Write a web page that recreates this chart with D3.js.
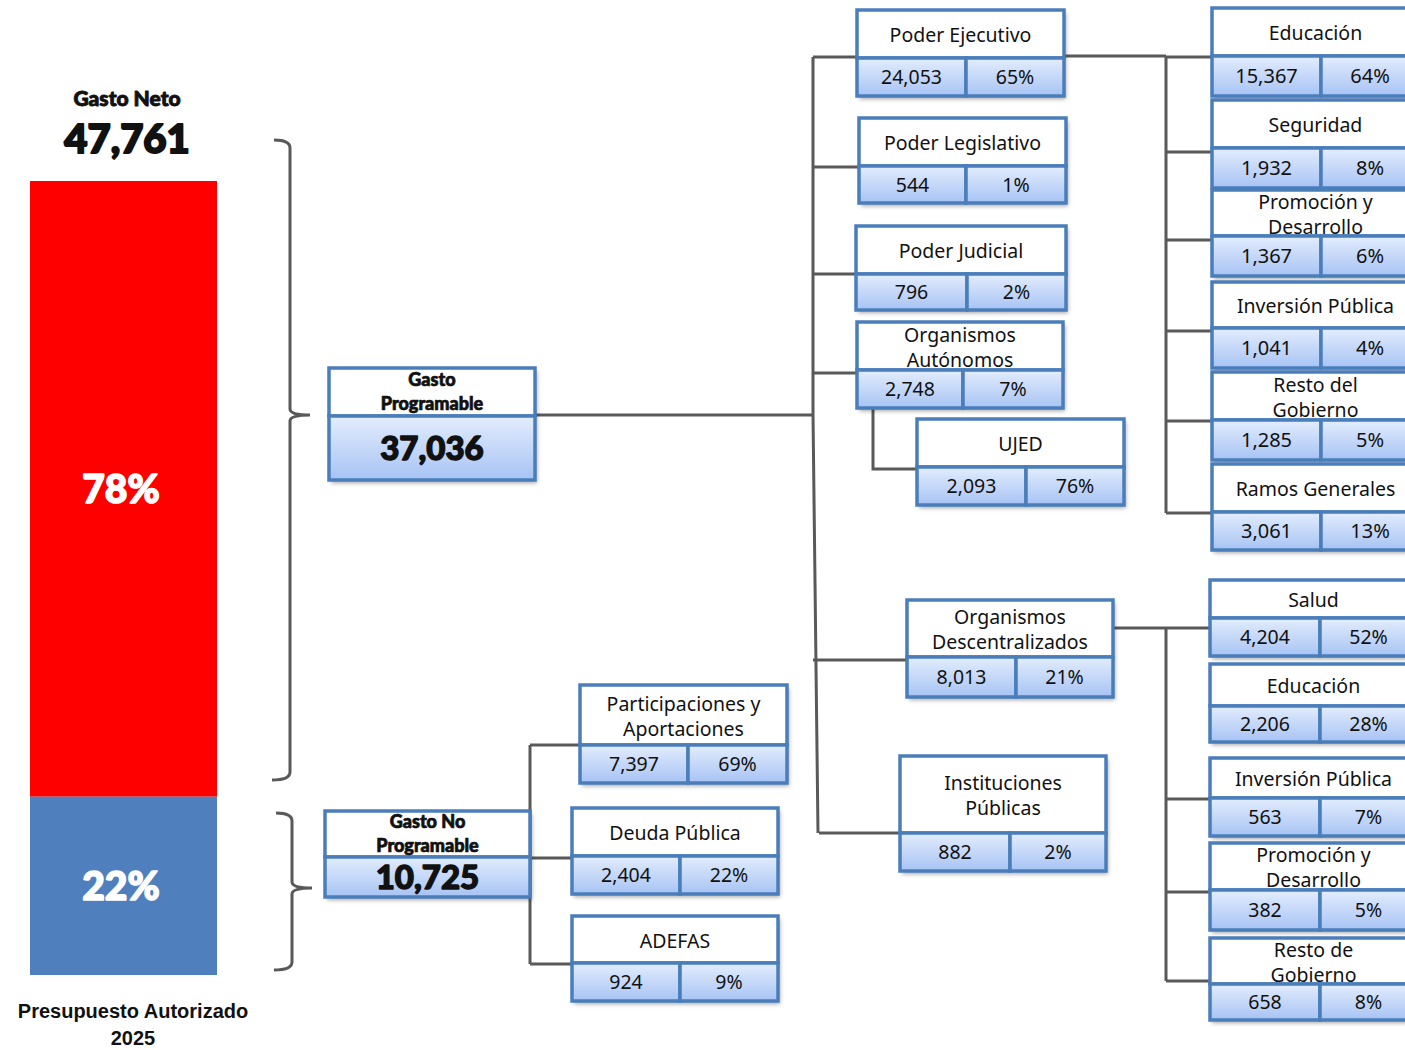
<!DOCTYPE html>
<html><head><meta charset="utf-8">
<script src="https://cdn.jsdelivr.net/npm/d3@7"></script>
<style>body{margin:0;background:#fff}svg{display:block}</style>
</head><body>
<svg id="c" width="1405" height="1050"></svg>
<script>
// ---------- DATA ----------
const totalLabel = "Gasto Neto";
const totalValue = 47761;
const footerLines = ["Presupuesto Autorizado", "2025"];
const splitNames = ["Gasto Programable", "Gasto No Programable"];
const splitValues = [37036, 10725];
const splitPcts = ["78%", "22%"];
const progNames = ["Poder Ejecutivo", "Poder Legislativo", "Poder Judicial", "Organismos Autónomos", "UJED", "Organismos Descentralizados", "Instituciones Públicas"];
const progValues = [24053, 544, 796, 2748, 2093, 8013, 882];
const progPcts = ["65%", "1%", "2%", "7%", "76%", "21%", "2%"];
const noProgNames = ["Participaciones y Aportaciones", "Deuda Pública", "ADEFAS"];
const noProgValues = [7397, 2404, 924];
const noProgPcts = ["69%", "22%", "9%"];
const ejecNames = ["Educación", "Seguridad", "Promoción y Desarrollo", "Inversión Pública", "Resto del Gobierno", "Ramos Generales"];
const ejecValues = [15367, 1932, 1367, 1041, 1285, 3061];
const ejecPcts = ["64%", "8%", "6%", "4%", "5%", "13%"];
const descNames = ["Salud", "Educación", "Inversión Pública", "Promoción y Desarrollo", "Resto de Gobierno"];
const descValues = [4204, 2206, 563, 382, 658];
const descPcts = ["52%", "28%", "7%", "5%", "8%"];

// ---------- LAYOUT (positions / sizes only) ----------
const splitLayout = [
  {x:329, y:368, w:206, th:48, vh:64, brk:1, cy:415},
  {x:325, y:811, w:205, th:46, vh:40, brk:2, cy:858}
];
const progLayout = [
  {x:857, y:10,  w:207, th:48, vh:38, sx:109, cy:57},
  {x:859, y:118, w:207, th:48, vh:37, sx:107, cy:167},
  {x:856, y:226, w:210, th:48, vh:36, sx:111, cy:274},
  {x:857, y:322, w:206, th:48, vh:38, sx:106, cy:373, brk:1},
  {x:917, y:419, w:207, th:48, vh:38, sx:109, cy:469},
  {x:907, y:600, w:206, th:57, vh:40, sx:109, cy:660, brk:1},
  {x:900, y:756, w:206, th:77, vh:38, sx:110, cy:833, brk:1}
];
const noProgLayout = [
  {x:580, y:685, w:207, th:60, vh:38, sx:108, cy:745, brk:2},
  {x:572, y:808, w:206, th:48, vh:38, sx:108, cy:858},
  {x:572, y:916, w:206, th:47, vh:38, sx:108, cy:964}
];
const ejecLayout = [
  {x:1212, y:8,   w:207, th:48, vh:40, sx:109, cy:57},
  {x:1212, y:100, w:207, th:48, vh:40, sx:109, cy:152},
  {x:1212, y:190, w:207, th:46, vh:40, sx:109, cy:240, brk:2},
  {x:1212, y:282, w:207, th:46, vh:40, sx:109, cy:331},
  {x:1212, y:372, w:207, th:48, vh:40, sx:109, cy:421, brk:2},
  {x:1212, y:464, w:207, th:48, vh:38, sx:109, cy:513}
];
const descLayout = [
  {x:1210, y:580, w:207, th:38, vh:38, sx:110, cy:628},
  {x:1210, y:664, w:207, th:42, vh:36, sx:110, cy:null},
  {x:1210, y:758, w:207, th:40, vh:38, sx:110, cy:799},
  {x:1210, y:843, w:207, th:47, vh:40, sx:110, cy:892, brk:2},
  {x:1210, y:938, w:207, th:46, vh:36, sx:110, cy:981, brk:2}
];

const BLUE = "#4a7ebb", LINE = "#595959";
const fmt = d3.format(",");
const svg = d3.select("#c");
const defs = svg.append("defs");
const grad = defs.append("linearGradient").attr("id","cell").attr("x1",0).attr("y1",0).attr("x2",0).attr("y2",1);
grad.append("stop").attr("offset","0%").attr("stop-color","#e3edfd");
grad.append("stop").attr("offset","100%").attr("stop-color","#a7c3f4");
const f = defs.append("filter").attr("id","sh").attr("x","-10%").attr("y","-10%").attr("width","130%").attr("height","140%");
f.append("feDropShadow").attr("dx",2).attr("dy",3).attr("stdDeviation",2).attr("flood-color","#000").attr("flood-opacity",0.35);

function heavy(sel, sw){
  return sel.attr("stroke", sel.attr("fill")).attr("stroke-width", sw).attr("stroke-linejoin","round").attr("paint-order","stroke");
}

// ---------- LEFT BAR ----------
const barTop = 181, barBottom = 975;
const y = d3.scaleLinear().domain([0, d3.sum(splitValues)]).range([barTop, barBottom]);
const stack = d3.cumsum(splitValues);
const segs = splitValues.map((v,i) => ({v, pct: splitPcts[i], y0: i ? stack[i-1] : 0, y1: stack[i]}));
const barColors = ["#ff0000", "#4f7fbc"];
const barG = svg.append("g");
barG.selectAll("rect").data(segs).join("rect")
  .attr("x",30).attr("width",187)
  .attr("y",d=>y(d.y0)).attr("height",d=>y(d.y1)-y(d.y0))
  .attr("fill",(d,i)=>barColors[i]);
barG.selectAll("text").data(segs).join("text")
  .attr("x",121).attr("y",d=>(y(d.y0)+y(d.y1))/2)
  .attr("dy","0.35em").attr("text-anchor","middle")
  .attr("font-family","Lato, 'Noto Sans', sans-serif").attr("font-weight",900)
  .attr("font-size",39).attr("fill","#fff")
  .attr("stroke","#fff").attr("stroke-width",1.6).attr("stroke-linejoin","round")
  .text(d=>d.pct);

heavy(svg.append("text").attr("x",127).attr("y",106).attr("text-anchor","middle")
  .attr("font-family","Lato, sans-serif").attr("font-weight",900).attr("font-size",21)
  .attr("fill","#111").text(totalLabel), 0.9);
heavy(svg.append("text").attr("x",127).attr("y",153).attr("text-anchor","middle")
  .attr("font-family","Lato, sans-serif").attr("font-weight",900).attr("font-size",40)
  .attr("fill","#111").text(fmt(totalValue)), 2);
svg.append("g").selectAll("text").data(footerLines).join("text")
  .attr("x",133).attr("y",(d,i)=>1018+i*27).attr("text-anchor","middle")
  .attr("font-family","'Liberation Sans', Arial, sans-serif").attr("font-weight",700).attr("font-size",20)
  .attr("fill","#111").text(d=>d);

// ---------- BRACKETS ----------
const brackets = [
  {x:290, top:140, bot:780, mid:415},
  {x:292, top:813, bot:970, mid:888}
];
const bG = svg.append("g").attr("fill","none").attr("stroke",LINE).attr("stroke-width",3);
brackets.forEach(b => {
  const p = d3.path();
  p.moveTo(b.x-16, b.top);
  p.quadraticCurveTo(b.x, b.top, b.x, b.top+8);
  p.lineTo(b.x, b.mid-6);
  p.quadraticCurveTo(b.x, b.mid, b.x+20, b.mid);
  p.moveTo(b.x+20, b.mid);
  p.quadraticCurveTo(b.x, b.mid, b.x, b.mid+6);
  p.lineTo(b.x, b.bot-8);
  p.quadraticCurveTo(b.x, b.bot, b.x-18, b.bot);
  bG.append("path").attr("d", p.toString());
});

// ---------- CONNECTORS ----------
const cG = svg.append("g").attr("fill","none").attr("stroke",LINE).attr("stroke-width",3);
function seg(x1,y1,x2,y2){ cG.append("line").attr("x1",x1).attr("y1",y1).attr("x2",x2).attr("y2",y2); }
const trunkX = 813;
const mainIdx = [0,1,2,3,5,6];
const mainCy = mainIdx.map(i=>progLayout[i].cy);
cG.append("path").attr("d", d3.line()([[trunkX, d3.min(mainCy)], [trunkX, 414], [818, d3.max(mainCy)]]));
seg(splitLayout[0].x+splitLayout[0].w, splitLayout[0].cy, trunkX, splitLayout[0].cy);
mainIdx.forEach(i => { const L = progLayout[i]; seg(trunkX + (i===6?6:0), L.cy, L.x, L.cy); });
const oa = progLayout[3], uj = progLayout[4];
cG.append("path").attr("d", d3.line()([[873, oa.y+oa.th+oa.vh], [873, uj.cy], [uj.x, uj.cy]]));
function fan(parent, py, kids, tx){
  const ys = kids.filter(k=>k.cy!=null).map(k=>k.cy);
  seg(parent.x+parent.w, py, tx, py);
  seg(tx, Math.min(py, d3.min(ys)), tx, d3.max(ys));
  kids.forEach(k => { if (k.cy!=null) seg(tx, k.cy, k.x, k.cy); });
}
fan(progLayout[0], 56, ejecLayout, 1166);
fan(progLayout[5], 628, descLayout, 1166);
const npYs = noProgLayout.map(k=>k.cy);
seg(530, d3.min(npYs), 530, d3.max(npYs));
noProgLayout.forEach(k => seg(530, k.cy, k.x, k.cy));

// ---------- BOXES ----------
const boxFont = "'Noto Sans', 'Open Sans', sans-serif";
function splitTitle(name, brk){
  if (!brk) return [name];
  const w = name.split(" ");
  return [w.slice(0,brk).join(" "), w.slice(brk).join(" ")];
}
function drawBox(g, name, value, pct, L, opts={}){
  const bx = g.append("g");
  const totalH = L.th + L.vh;
  bx.append("rect").attr("x",L.x).attr("y",L.y).attr("width",L.w).attr("height",totalH)
    .attr("fill","#fff").attr("filter","url(#sh)");
  bx.append("rect").attr("x",L.x).attr("y",L.y).attr("width",L.w).attr("height",L.th)
    .attr("fill","#fff").attr("stroke",BLUE).attr("stroke-width",3.5);
  const cells = pct == null ? [{x:L.x, w:L.w, t:fmt(value)}] :
    [{x:L.x, w:L.sx, t:fmt(value)}, {x:L.x+L.sx, w:L.w-L.sx, t:pct}];
  bx.selectAll("rect.c").data(cells).join("rect").attr("class","c")
    .attr("x",d=>d.x).attr("y",L.y+L.th).attr("width",d=>d.w).attr("height",L.vh)
    .attr("fill","url(#cell)").attr("stroke",BLUE).attr("stroke-width",3.5);
  const vt = bx.selectAll("text.v").data(cells).join("text").attr("class","v")
    .attr("x",d=>d.x+d.w/2).attr("y",L.y+L.th+L.vh/2).attr("dy","0.36em")
    .attr("text-anchor","middle").attr("fill","#111")
    .attr("font-family", opts.bold ? "Lato, sans-serif" : boxFont)
    .attr("font-weight", opts.bold ? 900 : 400)
    .attr("font-size", opts.vsize || 19.5).text(d=>d.t);
  if (opts.bold) vt.attr("stroke","#111").attr("stroke-width",1.4).attr("stroke-linejoin","round");
  const lines = splitTitle(name, L.brk);
  const cx = L.x + L.w/2, cyc = L.y + L.th/2 + (opts.bold ? 0 : 1);
  const lh = opts.lh || 25;
  const tt = bx.selectAll("text.t").data(lines).join("text").attr("class","t")
    .attr("x",cx).attr("y",(d,i)=>cyc + (i-(lines.length-1)/2)*lh).attr("dy","0.36em")
    .attr("text-anchor","middle").attr("fill","#111")
    .attr("font-family", opts.bold ? "Lato, sans-serif" : boxFont)
    .attr("font-weight", opts.bold ? 900 : 400)
    .attr("font-size", opts.tsize || 19.5).text(d=>d);
  if (opts.bold) tt.attr("stroke","#111").attr("stroke-width",0.7).attr("stroke-linejoin","round");
}
const boxG = svg.append("g");
splitNames.forEach((n,i)=>drawBox(boxG, n, splitValues[i], null, splitLayout[i], {bold:true, tsize:18, lh:24, vsize: i===0?33:33}));
progNames.forEach((n,i)=>drawBox(boxG, n, progValues[i], progPcts[i], progLayout[i]));
noProgNames.forEach((n,i)=>drawBox(boxG, n, noProgValues[i], noProgPcts[i], noProgLayout[i]));
ejecNames.forEach((n,i)=>drawBox(boxG, n, ejecValues[i], ejecPcts[i], ejecLayout[i], {vsize: 20}));
descNames.forEach((n,i)=>drawBox(boxG, n, descValues[i], descPcts[i], descLayout[i]));
</script>
</body></html>
